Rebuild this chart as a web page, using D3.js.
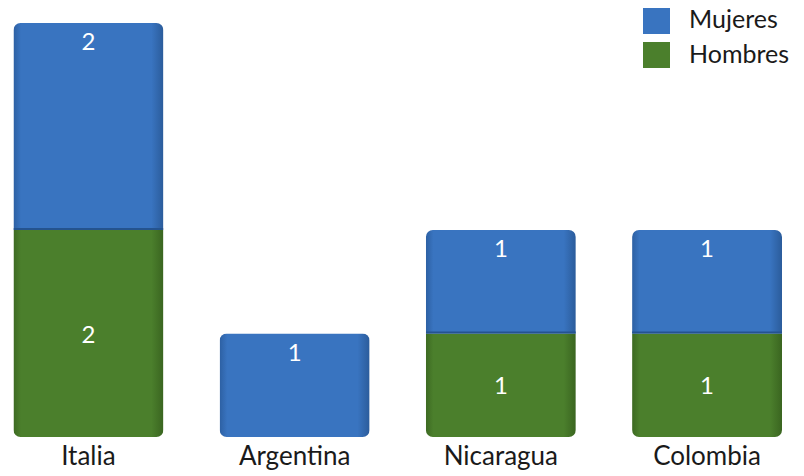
<!DOCTYPE html>
<html>
<head>
<meta charset="utf-8">
<script src="https://cdn.jsdelivr.net/npm/d3@7"></script>
<style>
  body { margin: 0; background: #fff; }
  svg { display: block; font-family: Lato, "Noto Sans", sans-serif; }
</style>
</head>
<body>
<div id="chart"></div>
<script>
// data
const categories = ['Italia', 'Argentina', 'Nicaragua', 'Colombia'];
const hombres = [2, 0, 1, 1];
const mujeres = [2, 1, 1, 1];
const seriesNames = ['Hombres', 'Mujeres'];
const colors = { Hombres: ['#3d6a22', '#4b7f2c', '#3a6520'], Mujeres: ['#2d60a3', '#3974c0', '#2b5c9b'] };

const width = 804, height = 476;
const svg = d3.select('#chart').append('svg')
    .attr('width', width)
    .attr('height', height);

const defs = svg.append('defs');
seriesNames.forEach(name => {
    const g = defs.append('linearGradient')
        .attr('id', 'grad-' + name)
        .attr('x1', '0%').attr('x2', '100%').attr('y1', '0%').attr('y2', '0%');
    const c = colors[name];
    g.append('stop').attr('offset', '0%').attr('stop-color', c[0]);
    g.append('stop').attr('offset', '5%').attr('stop-color', c[1]);
    g.append('stop').attr('offset', '92%').attr('stop-color', c[1]);
    g.append('stop').attr('offset', '100%').attr('stop-color', c[2]);
});

const data = categories.map((cat, i) => ({ cat, Hombres: hombres[i], Mujeres: mujeres[i] }));
const stacked = d3.stack().keys(seriesNames)(data);

const x = d3.scaleBand()
    .domain(categories)
    .range([13.5, 782])
    .paddingInner(0.273)
    .paddingOuter(0);

const y = d3.scaleLinear()
    .domain([0, 4])
    .range([437, 23]);

// clip each bar to a rounded rectangle covering its full stack
data.forEach((d, i) => {
    const total = d.Hombres + d.Mujeres;
    defs.append('clipPath').attr('id', 'clip-' + i)
        .append('rect')
        .attr('x', x(d.cat))
        .attr('y', y(total))
        .attr('width', x.bandwidth())
        .attr('height', y(0) - y(total))
        .attr('rx', 7);
});

const bars = svg.append('g');
stacked.forEach(layer => {
    const name = layer.key;
    layer.forEach((s, i) => {
        if (s[1] - s[0] <= 0) return;
        const g = bars.append('g').attr('clip-path', `url(#clip-${i})`);
        g.append('rect')
            .attr('x', x(categories[i]))
            .attr('y', y(s[1]))
            .attr('width', x.bandwidth())
            .attr('height', y(s[0]) - y(s[1]))
            .attr('fill', `url(#grad-${name})`);
        // darker seam under the top segment
        if (name === 'Mujeres' && s[0] > 0) {
            g.append('rect')
                .attr('x', x(categories[i]))
                .attr('y', y(s[0]) - 2)
                .attr('width', x.bandwidth())
                .attr('height', 2)
                .attr('fill', '#24538f');
        }
        // value labels: top segment near its top, bottom segment centred
        const v = s[1] - s[0];
        const ly = name === 'Mujeres' ? y(s[1]) + 27 : (y(s[0]) + y(s[1])) / 2 + 9;
        svg.append('text')
            .attr('x', x(categories[i]) + x.bandwidth() / 2)
            .attr('y', ly)
            .attr('text-anchor', 'middle')
            .attr('fill', '#fff')
            .attr('font-size', 24)
            .text(v);
    });
});

// category labels
svg.append('g')
    .selectAll('text')
    .data(categories)
    .join('text')
    .attr('x', d => x(d) + x.bandwidth() / 2)
    .attr('y', 465)
    .attr('text-anchor', 'middle')
    .attr('fill', '#1a1a1a')
    .attr('font-size', 26)
    .text(d => d);

// legend
const legend = svg.append('g').attr('transform', 'translate(643,8)');
['Mujeres', 'Hombres'].forEach((name, i) => {
    legend.append('rect')
        .attr('x', 0).attr('y', i * 34)
        .attr('width', 27).attr('height', 26)
        .attr('fill', colors[name][1]);
    legend.append('text')
        .attr('x', 46).attr('y', i * 35 + 20)
        .attr('fill', '#1a1a1a')
        .attr('font-size', 25)
        .text(name);
});
</script>
</body>
</html>
